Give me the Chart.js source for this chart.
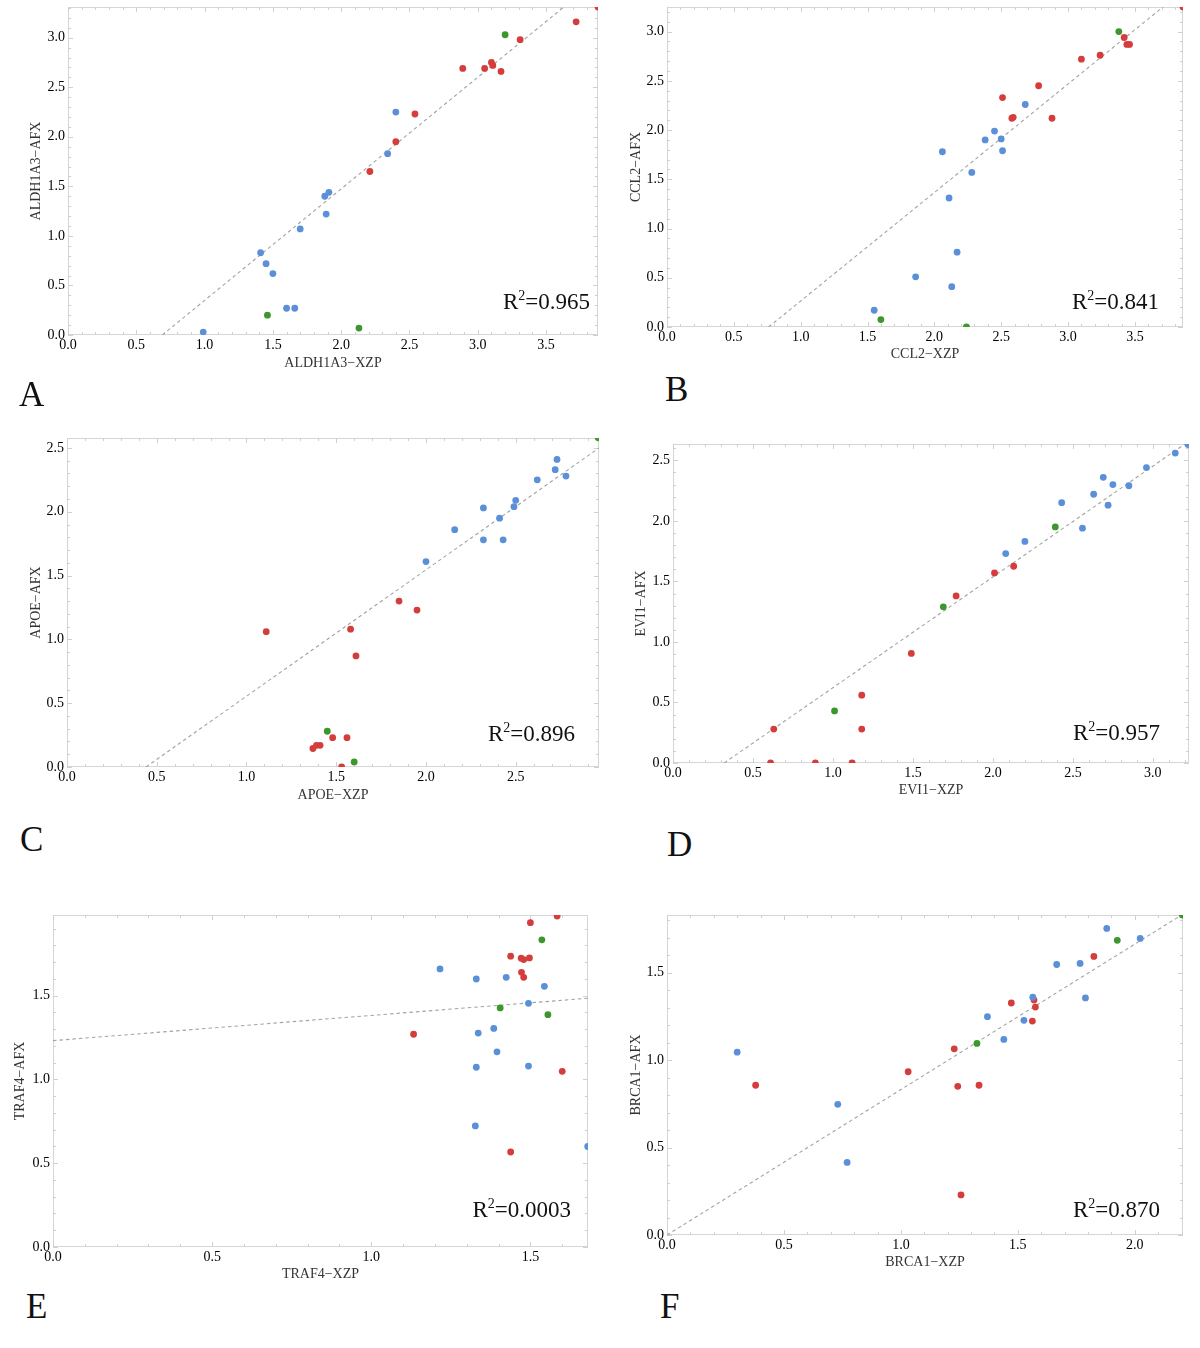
<!DOCTYPE html>
<html>
<head>
<meta charset="utf-8">
<script src="https://cdn.jsdelivr.net/npm/chart.js@4.4.1/dist/chart.umd.min.js"></script>
<style>
  body { margin: 0; background: #fff; }
  #page { position: relative; width: 1200px; height: 1348px; overflow: hidden; }
  canvas { position: absolute; }
  .tag { position: absolute; font-family: "Liberation Serif", serif; font-size: 35px; line-height: 35px; color: #111; }
</style>
</head>
<body>
<div id="page"></div>
<script>
// Values, [xzp, afx] pairs per group
const aBlue = [[0.99,0.03],[1.41,0.83],[1.45,0.72],[1.50,0.62],[1.60,0.27],[1.66,0.27],[1.70,1.07],[1.88,1.40],[1.91,1.44],[1.89,1.22],[2.34,1.83],[2.40,2.25]];
const aRed = [[2.21,1.65],[2.40,1.95],[2.54,2.23],[2.89,2.69],[3.05,2.69],[3.10,2.75],[3.11,2.72],[3.17,2.66],[3.31,2.98],[3.72,3.16],[3.88,3.31]];
const aGreen = [[3.20,3.03],[1.46,0.20],[2.13,0.07]];
const aFit = [[0.69,0],[3.63,3.31]];

const bBlue = [[1.55,0.17],[1.86,0.51],[2.13,0.41],[2.17,0.76],[2.11,1.31],[2.28,1.57],[2.06,1.78],[2.38,1.90],[2.45,1.99],[2.50,1.91],[2.51,1.79],[2.68,2.26]];
const bRed = [[2.51,2.33],[2.58,2.12],[2.59,2.13],[2.78,2.45],[2.88,2.12],[3.10,2.72],[3.24,2.76],[3.42,2.94],[3.44,2.87],[3.46,2.87],[3.86,3.25]];
const bGreen = [[3.38,3.00],[1.60,0.075],[2.24,0.0]];
const bFit = [[0.76,0],[3.71,3.25]];

const cBlue = [[2.00,1.61],[2.16,1.86],[2.32,1.78],[2.32,2.03],[2.41,1.95],[2.43,1.78],[2.49,2.04],[2.50,2.09],[2.62,2.25],[2.72,2.33],[2.73,2.41],[2.78,2.28]];
const cRed = [[1.11,1.06],[1.58,1.08],[1.61,0.87],[1.85,1.30],[1.95,1.23],[1.37,0.145],[1.39,0.17],[1.41,0.17],[1.48,0.23],[1.56,0.23],[1.53,0.0]];
const cGreen = [[1.45,0.28],[1.60,0.04],[2.96,2.58]];
const cFit = [[0.44,0],[2.964,2.50]];

const dRed = [[0.61,0],[0.63,0.28],[0.89,0],[1.12,0],[1.18,0.56],[1.18,0.28],[1.49,0.905],[1.77,1.38],[2.01,1.57],[2.13,1.625]];
const dGreen = [[1.01,0.43],[1.69,1.29],[2.39,1.95]];
const dBlue = [[2.08,1.73],[2.20,1.83],[2.43,2.15],[2.56,1.94],[2.63,2.22],[2.69,2.36],[2.72,2.13],[2.75,2.30],[2.85,2.29],[2.96,2.44],[3.14,2.56],[3.22,2.63]];
const dFit = [[0.32,0],[3.20,2.635]];

const eBlue = [[1.216,1.66],[1.33,1.60],[1.336,1.277],[1.33,1.073],[1.327,0.723],[1.385,1.305],[1.395,1.165],[1.424,1.61],[1.494,1.455],[1.494,1.08],[1.544,1.556],[1.68,0.60]];
const eRed = [[1.133,1.27],[1.438,1.736],[1.438,0.567],[1.471,1.724],[1.479,1.716],[1.497,1.726],[1.472,1.64],[1.479,1.61],[1.50,1.936],[1.584,1.976],[1.60,1.049]];
const eGreen = [[1.536,1.834],[1.405,1.427],[1.555,1.387]];
const eFit = [[0,1.232],[1.681,1.485]];

const fBlue = [[0.30,1.045],[0.73,0.747],[0.77,0.415],[1.37,1.248],[1.44,1.118],[1.526,1.227],[1.564,1.359],[1.666,1.546],[1.766,1.552],[1.789,1.355],[1.88,1.752],[2.023,1.695]];
const fRed = [[0.379,0.856],[1.031,0.933],[1.228,1.064],[1.243,0.850],[1.334,0.856],[1.257,0.229],[1.472,1.326],[1.569,1.343],[1.575,1.303],[1.562,1.223],[1.825,1.592]];
const fGreen = [[1.325,1.095],[1.925,1.684],[2.203,1.829]];
const fFit = [[0,0],[2.20,1.829]];

// tick labels
const ticks35 = [0, 0.5, 1.0, 1.5, 2.0, 2.5, 3.0, 3.5];
const ticks30 = [0, 0.5, 1.0, 1.5, 2.0, 2.5, 3.0];
const ticks25 = [0, 0.5, 1.0, 1.5, 2.0, 2.5];
const ticks20 = [0, 0.5, 1.0, 1.5, 2.0];
const ticks15 = [0, 0.5, 1.0, 1.5];

const BLUE = "#5b8fd7";
const RED = "#d53d3d";
const GREEN = "#3d962e";
const FONT = '"Liberation Serif", "Times New Roman", serif';

Chart.defaults.font.family = FONT;

// box = plot area [left, top, right, bottom]; yt/xt = centre of axis titles
const panels = [
  { tag: "A", tagPos: [19, 377], gene: "ALDH1A3", r2: "0.965", blue: aBlue, red: aRed, green: aGreen, fit: aFit,
    xMax: 3.88, yMax: 3.31, xTicks: ticks35, yTicks: ticks30, box: [68, 7, 598, 335], yt: 36, xt: 364, r2Off: [8, 26] },
  { tag: "B", tagPos: [665, 372], gene: "CCL2", r2: "0.841", blue: bBlue, red: bRed, green: bGreen, fit: bFit,
    xMax: 3.86, yMax: 3.25, xTicks: ticks35, yTicks: ticks30, box: [667, 7, 1183, 327], yt: 636, xt: 355, r2Off: [24, 18] },
  { tag: "C", tagPos: [20, 822], gene: "APOE", r2: "0.896", blue: cBlue, red: cRed, green: cGreen, fit: cFit,
    xMax: 2.964, yMax: 2.578, xTicks: ticks25, yTicks: ticks25, box: [67, 438, 599, 767], yt: 36, xt: 796, r2Off: [24, 26] },
  { tag: "D", tagPos: [667, 827], gene: "EVI1", r2: "0.957", blue: dBlue, red: dRed, green: dGreen, fit: dFit,
    xMax: 3.226, yMax: 2.635, xTicks: ticks30, yTicks: ticks25, box: [673, 444, 1189, 763], yt: 641, xt: 791, r2Off: [29, 23] },
  { tag: "E", tagPos: [26, 1289], gene: "TRAF4", r2: "0.0003", blue: eBlue, red: eRed, green: eGreen, fit: eFit,
    xMax: 1.681, yMax: 1.982, xTicks: ticks15, yTicks: ticks15, box: [53, 915, 588, 1247], yt: 20, xt: 1275, r2Off: [17, 30] },
  { tag: "F", tagPos: [660, 1289], gene: "BRCA1", r2: "0.870", blue: fBlue, red: fRed, green: fGreen, fit: fFit,
    xMax: 2.206, yMax: 1.829, xTicks: ticks20, yTicks: ticks15, box: [667, 915, 1183, 1235], yt: 636, xt: 1263, r2Off: [23, 18] },
];

// light frame with Mathematica-style inward ticks on all four sides
const framePlugin = {
  id: "frame",
  beforeDatasetsDraw(chart) {
    const { ctx, chartArea: a, scales: { x, y } } = chart;
    ctx.save();
    ctx.strokeStyle = "#d6d6d6";
    ctx.lineWidth = 1;
    ctx.strokeRect(a.left + 0.5, a.top + 0.5, a.right - a.left - 1, a.bottom - a.top - 1);
    ctx.strokeStyle = "#d0d0d0";
    ctx.beginPath();
    for (let i = 0; i * 0.1 <= x.max + 1e-9; i++) {
      const px = Math.round(x.getPixelForValue(i * 0.1)) + 0.5;
      const len = i % 5 === 0 ? 5 : 3;
      ctx.moveTo(px, a.bottom); ctx.lineTo(px, a.bottom - len);
      ctx.moveTo(px, a.top); ctx.lineTo(px, a.top + len);
    }
    for (let i = 0; i * 0.1 <= y.max + 1e-9; i++) {
      const py = Math.round(y.getPixelForValue(i * 0.1)) + 0.5;
      const len = i % 5 === 0 ? 5 : 3;
      ctx.moveTo(a.left, py); ctx.lineTo(a.left + len, py);
      ctx.moveTo(a.right, py); ctx.lineTo(a.right - len, py);
    }
    ctx.stroke();
    ctx.restore();
  },
};

// R² annotation in the lower right corner
const r2Plugin = {
  id: "r2",
  afterDatasetsDraw(chart, args, opts) {
    const { ctx, chartArea: a } = chart;
    const x = a.right - opts.dx;
    const y = a.bottom - opts.dy;
    const big = "23px " + FONT;
    const small = "14px " + FONT;
    ctx.save();
    ctx.fillStyle = "#111";
    ctx.textAlign = "left";
    ctx.textBaseline = "alphabetic";
    ctx.font = big;
    const wR = ctx.measureText("R").width;
    const wRest = ctx.measureText("=" + opts.value).width;
    ctx.font = small;
    const w2 = ctx.measureText("2").width;
    let sx = x - (wR + w2 + wRest);
    ctx.font = big;
    ctx.fillText("R", sx, y);
    sx += wR;
    ctx.font = small;
    ctx.fillText("2", sx, y - 9);
    sx += w2;
    ctx.font = big;
    ctx.fillText("=" + opts.value, sx, y);
    ctx.restore();
  },
};

const toXY = (pts) => pts.map(([x, y]) => ({ x, y }));

function pointSet(pts, color) {
  return {
    type: "scatter",
    data: toXY(pts),
    backgroundColor: color,
    borderWidth: 0,
    pointRadius: 3.4,
    pointHoverRadius: 3.4,
    clip: 0,
    order: 1,
  };
}

function makePanel(p) {
  const page = document.getElementById("page");
  const [L, T, R, B] = p.box;
  const padL = 2, padT = 4, padR = 4, padB = 4;
  const TITLE_HALF = 8.4; // 14px * 1.2 / 2
  const cLeft = Math.round(p.yt - TITLE_HALF - padL);
  const cTop = T - padT;
  const cWidth = R + padR - cLeft;
  const cHeight = Math.round(p.xt + TITLE_HALF + padB) - cTop;
  const yAxisW = L - (cLeft + padL);
  const xAxisH = (cTop + cHeight - padB) - B;

  const canvas = document.createElement("canvas");
  canvas.width = cWidth;
  canvas.height = cHeight;
  canvas.style.left = cLeft + "px";
  canvas.style.top = cTop + "px";
  page.appendChild(canvas);

  const tag = document.createElement("div");
  tag.className = "tag";
  tag.textContent = p.tag;
  tag.style.left = p.tagPos[0] + "px";
  tag.style.top = p.tagPos[1] + "px";
  page.appendChild(tag);

  const tickFont = { family: FONT, size: 14 };
  new Chart(canvas, {
    type: "scatter",
    data: {
      datasets: [
        {
          type: "line",
          data: toXY(p.fit),
          borderColor: "#a3a3a3",
          borderWidth: 1.1,
          borderDash: [3.5, 3],
          pointRadius: 0,
          fill: false,
          clip: 0,
          order: 10,
        },
        pointSet(p.blue, BLUE),
        pointSet(p.red, RED),
        pointSet(p.green, GREEN),
      ],
    },
    options: {
      responsive: false,
      animation: false,
      layout: { padding: { left: padL, top: padT, right: padR, bottom: padB } },
      plugins: {
        legend: { display: false },
        tooltip: { enabled: false },
        r2: { value: p.r2, dx: p.r2Off[0], dy: p.r2Off[1] },
      },
      scales: {
        x: {
          type: "linear",
          min: 0,
          max: p.xMax,
          afterBuildTicks: (s) => { s.ticks = p.xTicks.map((v) => ({ value: v })); },
          afterFit: (s) => { s.height = xAxisH; s.paddingLeft = 0; s.paddingRight = 0; },
          grid: { display: false, drawTicks: false },
          border: { display: false },
          ticks: { font: tickFont, color: "#000", padding: 2, maxRotation: 0, autoSkip: false,
                   callback: (v) => Number(v).toFixed(1) },
          title: { display: true, text: p.gene + "\u2212XZP", font: { family: FONT, size: 14 }, color: "#333", padding: 0 },
        },
        y: {
          type: "linear",
          min: 0,
          max: p.yMax,
          afterBuildTicks: (s) => { s.ticks = p.yTicks.map((v) => ({ value: v })); },
          afterFit: (s) => { s.width = yAxisW; s.paddingTop = 0; s.paddingBottom = 0; },
          grid: { display: false, drawTicks: false },
          border: { display: false },
          ticks: { font: tickFont, color: "#000", padding: 3, autoSkip: false,
                   callback: (v) => Number(v).toFixed(1) },
          title: { display: true, text: p.gene + "\u2212AFX", font: { family: FONT, size: 14 }, color: "#333", padding: 0 },
        },
      },
    },
    plugins: [framePlugin, r2Plugin],
  });
}

panels.forEach(makePanel);
</script>
</body>
</html>
